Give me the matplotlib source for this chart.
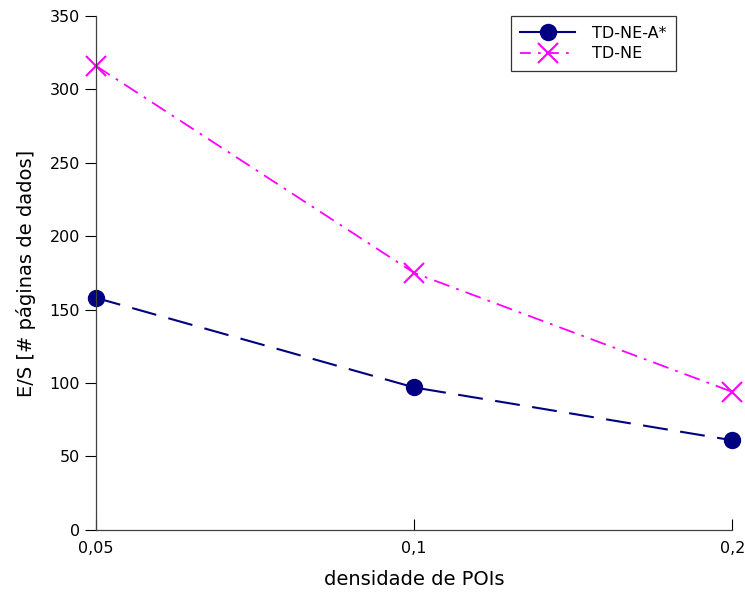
import matplotlib.pyplot as plt
from matplotlib.lines import Line2D

# densidade de POIs (eixo x categórico)
densidades = ["0,05", "0,1", "0,2"]
td_ne_astar = [158, 97, 61]
td_ne = [316, 175, 94]

fig = plt.figure(figsize=(7.45, 5.94), dpi=100)
ax = fig.add_axes([0.129, 0.108, 0.854, 0.865])

x = list(range(len(densidades)))
estilo_astar = dict(color="#000080", linewidth=1.5, marker="o", markersize=11.5)
estilo_ne = dict(color="#ff00ff", linewidth=1.3, marker="x", markersize=14,
                 markeredgewidth=1.5)

ax.plot(x, td_ne_astar, linestyle=(0, (12, 6)), clip_on=False,
        label="TD-NE-A*", **estilo_astar)
ax.plot(x, td_ne, linestyle=(0, (9, 4, 1.5, 4)), clip_on=False,
        label="TD-NE", **estilo_ne)

ax.set_xlim(0, 2)
ax.set_ylim(0, 350)
ax.set_xticks(x)
ax.set_xticklabels(densidades)
ax.set_yticks(range(0, 351, 50))

for side in ("top", "right"):
    ax.spines[side].set_visible(False)
for side in ("left", "bottom"):
    ax.spines[side].set_color("#404040")
    ax.spines[side].set_linewidth(0.9)

ax.tick_params(axis="x", direction="in", length=8, labelsize=11.5, pad=8)
ax.tick_params(axis="y", direction="out", length=8, labelsize=11.5)

ax.set_xlabel("densidade de POIs", fontsize=14, labelpad=10)
ax.set_ylabel("E/S [# páginas de dados]", fontsize=14, labelpad=10)

# legenda com a linha contínua para TD-NE-A*
handles = [
    Line2D([], [], linestyle="-", **estilo_astar),
    Line2D([], [], linestyle=(0, (6, 4, 1.5, 4)), **estilo_ne),
]
leg = ax.legend(handles, ["TD-NE-A*", "TD-NE"], loc="upper right",
                bbox_to_anchor=(0.912, 1.0), borderaxespad=0, fontsize=11.5,
                frameon=True, fancybox=False, handlelength=3.4,
                borderpad=0.6, labelspacing=0.35, handletextpad=1.1)
leg.get_frame().set_edgecolor("black")
leg.get_frame().set_linewidth(0.9)

fig.savefig("out.png", dpi=100)
